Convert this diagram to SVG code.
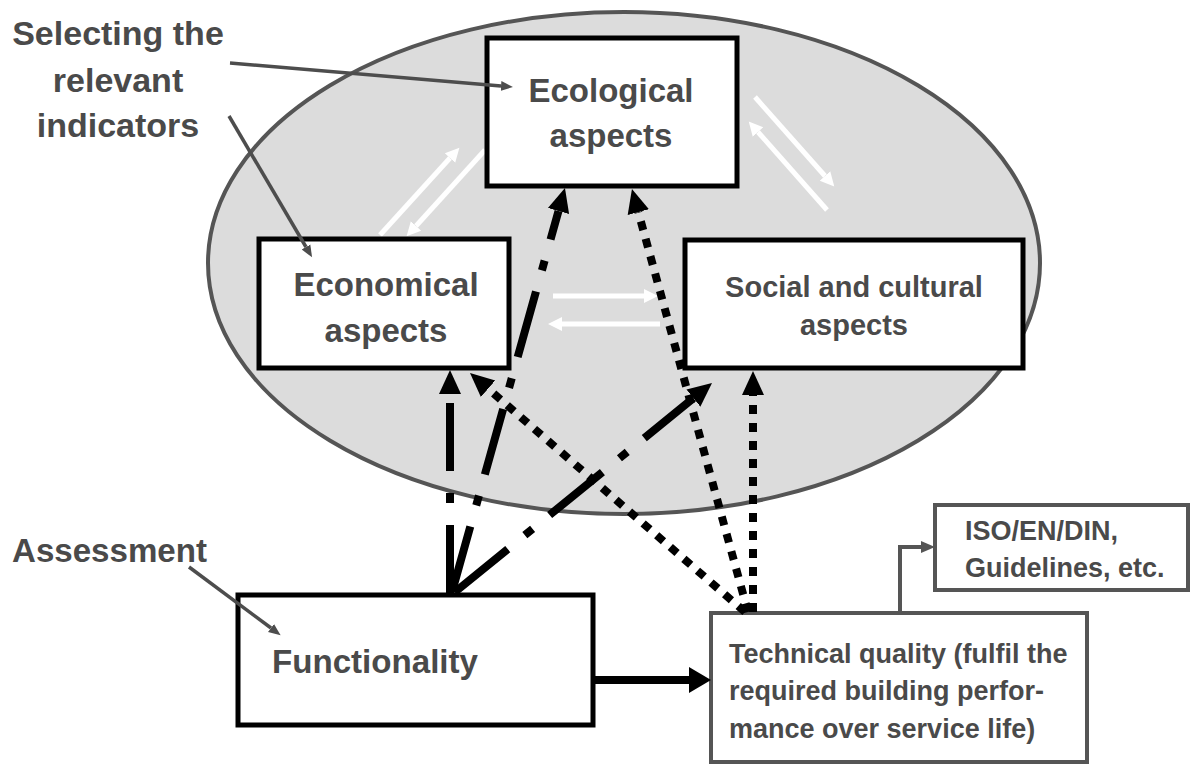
<svg xmlns="http://www.w3.org/2000/svg" width="1190" height="765" viewBox="0 0 1190 765">
<style>
.t{font-family:"Liberation Sans",Arial,sans-serif;font-weight:bold;fill:#4a4a4a}
.bb{fill:#fff;stroke:#000;stroke-width:5}
.gb{fill:#fff;stroke:#555;stroke-width:4}
.wa{stroke:#fff;stroke-width:5;fill:none;marker-end:url(#wh)}
.dd{stroke:#000;stroke-width:8;fill:none;stroke-dasharray:68 22 10 22;marker-end:url(#bh)}
.dt{stroke:#000;stroke-width:8;fill:none;stroke-dasharray:9 9;marker-end:url(#bh)}
.gp{stroke:#4d4d4d;stroke-width:3.5;fill:none;marker-end:url(#gh)}
</style>
<defs>
<marker id="bh" markerUnits="userSpaceOnUse" markerWidth="26" markerHeight="24" refX="0" refY="12" orient="auto"><path d="M0,1 L24,12 L0,23 Z" fill="#000"/></marker>
<marker id="bh2" markerUnits="userSpaceOnUse" markerWidth="24" markerHeight="28" refX="0" refY="14" orient="auto"><path d="M0,1 L22,14 L0,27 Z" fill="#000"/></marker>
<marker id="wh" markerUnits="userSpaceOnUse" markerWidth="16" markerHeight="16" refX="0" refY="8" orient="auto"><path d="M0,1 L14,8 L0,15 Z" fill="#fff"/></marker>
<marker id="gh" markerUnits="userSpaceOnUse" markerWidth="14" markerHeight="12" refX="0" refY="6" orient="auto"><path d="M0,1 L12,6 L0,11 Z" fill="#4d4d4d"/></marker>
<marker id="gh2" markerUnits="userSpaceOnUse" markerWidth="16" markerHeight="14" refX="0" refY="7" orient="auto"><path d="M0,1 L14,7 L0,13 Z" fill="#555"/></marker>
</defs>
<ellipse id="scope" cx="624" cy="263" rx="416" ry="251" fill="#dcdcdc" stroke="#555" stroke-width="4"/>
<g id="white-links">
<line class="wa" x1="380" y1="235" x2="450" y2="158"/>
<line class="wa" x1="485" y1="150" x2="416" y2="226"/>
<line class="wa" x1="755" y1="97" x2="825" y2="176"/>
<line class="wa" x1="827" y1="210" x2="758" y2="132"/>
<line class="wa" x1="553" y1="296" x2="644" y2="296"/>
<line class="wa" x1="660" y1="324" x2="562" y2="324"/>
</g>
<g id="ecological"><rect class="bb" x="487" y="38" width="250" height="148"/>
<text class="t" font-size="33" text-anchor="middle" x="611" y="102">Ecological</text>
<text class="t" font-size="33" text-anchor="middle" x="611" y="147">aspects</text></g>
<g id="economical"><rect class="bb" x="259" y="239" width="250" height="129"/>
<text class="t" font-size="33" text-anchor="middle" x="386" y="296">Economical</text>
<text class="t" font-size="33" text-anchor="middle" x="386" y="342">aspects</text></g>
<g id="social"><rect class="bb" x="685" y="240" width="338" height="128"/>
<text class="t" font-size="29" text-anchor="middle" x="854" y="297">Social and cultural</text>
<text class="t" font-size="29" text-anchor="middle" x="854" y="335">aspects</text></g>
<g id="functionality"><rect class="bb" x="238" y="595" width="355" height="130"/>
<text class="t" font-size="34" x="272" y="673" textLength="206" lengthAdjust="spacingAndGlyphs">Functionality</text></g>
<g id="technical"><rect class="gb" x="711" y="613" width="376" height="149"/>
<text class="t" font-size="27" x="729" y="663">Technical quality (fulfil the</text>
<text class="t" font-size="27" x="729" y="700">required building perfor-</text>
<text class="t" font-size="27" x="729" y="738">mance over service life)</text></g>
<g id="standards"><rect class="gb" x="935" y="505" width="253" height="85"/>
<text class="t" font-size="27" x="965" y="540">ISO/EN/DIN,</text>
<text class="t" font-size="27" x="965" y="577">Guidelines, etc.</text></g>
<g id="label-selecting">
<text class="t" font-size="34" text-anchor="middle" x="118" y="45">Selecting the</text>
<text class="t" font-size="34" text-anchor="middle" x="118" y="92">relevant</text>
<text class="t" font-size="34" text-anchor="middle" x="118" y="137">indicators</text></g>
<g id="label-assessment">
<text class="t" font-size="34" x="12" y="562" textLength="195" lengthAdjust="spacingAndGlyphs">Assessment</text></g>
<g id="connectors">
<line class="dd" x1="450" y1="593" x2="450" y2="394"/>
<line class="dd" x1="452" y1="592" x2="558.5" y2="211"/>
<line class="dd" x1="455" y1="592" x2="693.4" y2="398.1"/>
<line class="dt" x1="745" y1="612" x2="488.1" y2="388.7"/>
<line class="dt" x1="748" y1="612" x2="638.3" y2="212.1"/>
<line class="dt" x1="753" y1="612" x2="753" y2="395"/>
<line x1="595" y1="680" x2="689" y2="680" stroke="#000" stroke-width="8" marker-end="url(#bh2)"/>
<polyline points="900,613 900,547 921,547" stroke="#555" stroke-width="4" fill="none" marker-end="url(#gh2)"/>
<line class="gp" x1="230" y1="63" x2="501" y2="86"/>
<line class="gp" x1="229" y1="116" x2="306" y2="247"/>
<line class="gp" x1="189" y1="567" x2="271" y2="628"/>
</g>
</svg>
